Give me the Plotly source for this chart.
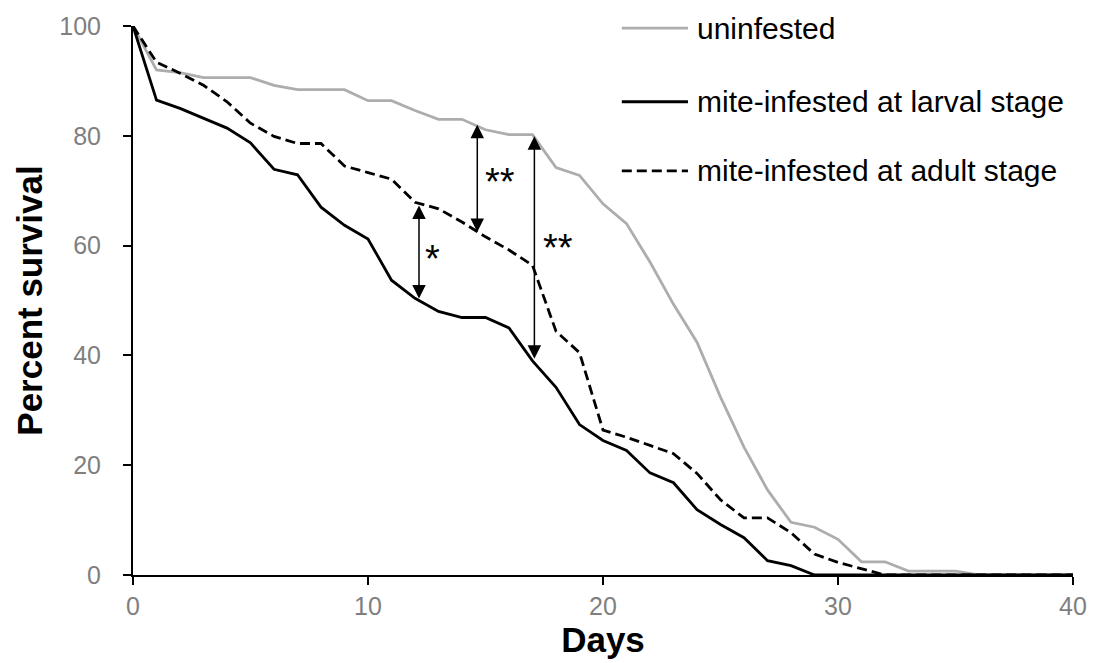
import plotly.graph_objects as go

days = list(range(0, 41))
uninfested = [100, 92.0, 91.5, 90.6, 90.6, 90.6, 89.2, 88.4, 88.4, 88.4, 86.4, 86.4, 84.6, 83.0,
              83.0, 81.1, 80.2, 80.2, 74.2, 72.8, 67.6, 64.0, 57.0, 49.3, 42.4, 32.4, 23.3, 15.5,
              9.6, 8.7, 6.5, 2.4, 2.4, 0.7, 0.7, 0.7, 0, 0, 0, 0, 0]
larval = [100, 86.5, 85.0, 83.2, 81.4, 78.7, 73.9, 72.9, 67.0, 63.7, 61.2, 53.7, 50.4, 48.0,
          46.9, 46.9, 45.0, 39.0, 34.2, 27.4, 24.5, 22.7, 18.6, 16.8, 11.9, 9.2, 6.8, 2.6,
          1.7, 0, 0, 0, 0, 0, 0, 0, 0, 0, 0, 0, 0]
adult = [100, 93.4, 91.4, 89.2, 86.2, 82.3, 79.9, 78.6, 78.6, 74.5, 73.3, 72.1, 67.9, 66.7,
         64.3, 61.6, 59.2, 56.4, 44.4, 40.5, 26.4, 25.1, 23.6, 22.1, 18.5, 13.7, 10.4, 10.4,
         7.7, 3.8, 2.3, 1.1, 0, 0, 0, 0, 0, 0, 0, 0, 0]

series_names = ["uninfested", "mite-infested at larval stage", "mite-infested at adult stage"]
series_colors = ["#adadad", "#000000", "#000000"]
series_dash = ["solid", "solid", "10px,5px"]

# significance arrows
arrow_day = [12.17, 14.65, 17.08]
arrow_top = [67.3, 82.0, 79.9]
arrow_bottom = [50.1, 62.2, 39.1]
arrow_label = ["*", "**", "**"]
label_day = [12.75, 15.6, 18.1]
label_val = [57.5, 71.5, 59.5]

x_ticks = [0, 10, 20, 30, 40]
y_ticks = [0, 20, 40, 60, 80, 100]

fig = go.Figure()
for vals, name, col, dash in zip([uninfested, larval, adult], series_names, series_colors, series_dash):
    fig.add_trace(go.Scatter(x=days, y=vals, mode="lines", name=name,
                             line=dict(color=col, width=2.8, dash=dash),
                             cliponaxis=False, showlegend=False))

annotations = []
for d, t, b in zip(arrow_day, arrow_top, arrow_bottom):
    annotations.append(dict(x=d, y=t, ax=d, ay=b, xref="x", yref="y", axref="x", ayref="y",
                            text="", showarrow=True, arrowhead=2, arrowside="end+start",
                            arrowsize=1.8, arrowwidth=1.5, arrowcolor="#000000",
                            standoff=0, startstandoff=0))
for lbl, d, v in zip(arrow_label, label_day, label_val):
    annotations.append(dict(x=d, y=v, xref="x", yref="y", text=lbl, showarrow=False,
                            font=dict(size=38, color="#000000", family="Liberation Sans, Arial")))

# legend drawn manually (paper coordinates)
shapes = []
leg_y = [0.996, 0.862, 0.736]
for name, col, dash, yy in zip(series_names, series_colors, series_dash, leg_y):
    shapes.append(dict(type="line", xref="paper", yref="paper", x0=0.520, x1=0.5904,
                       y0=yy, y1=yy, line=dict(color=col, width=2.8, dash=dash)))
    annotations.append(dict(x=0.598, y=yy, xref="paper", yref="paper", text=name, showarrow=False,
                            xanchor="left", yanchor="middle",
                            font=dict(size=30, color="#000000", family="Liberation Sans, Arial")))

fig.update_layout(
    width=1108, height=663,
    margin=dict(l=133, r=35, t=22, b=87),
    paper_bgcolor="white", plot_bgcolor="white",
    font=dict(family="Liberation Sans, Arial", color="#000000"),
    xaxis=dict(range=[0, 40], tickvals=x_ticks, showgrid=False, zeroline=False,
               showline=True, linecolor="#000000", linewidth=2,
               ticks="outside", ticklen=8, tickwidth=2, tickcolor="#000000",
               tickfont=dict(size=25, color="#7f7f7f"),
               title=dict(text="<b>Days</b>", font=dict(size=35, color="#000000"), standoff=6)),
    yaxis=dict(range=[0, 100], tickvals=y_ticks, showgrid=False, zeroline=False,
               showline=True, linecolor="#000000", linewidth=2,
               ticks="outside", ticklen=8, tickwidth=2, tickcolor="#000000",
               tickfont=dict(size=25, color="#7f7f7f"), ticklabelstandoff=17,
               title=dict(text="<b>Percent survival</b>", font=dict(size=35, color="#000000"), standoff=6)),
    annotations=annotations, shapes=shapes,
)

fig.write_html("out.html")
